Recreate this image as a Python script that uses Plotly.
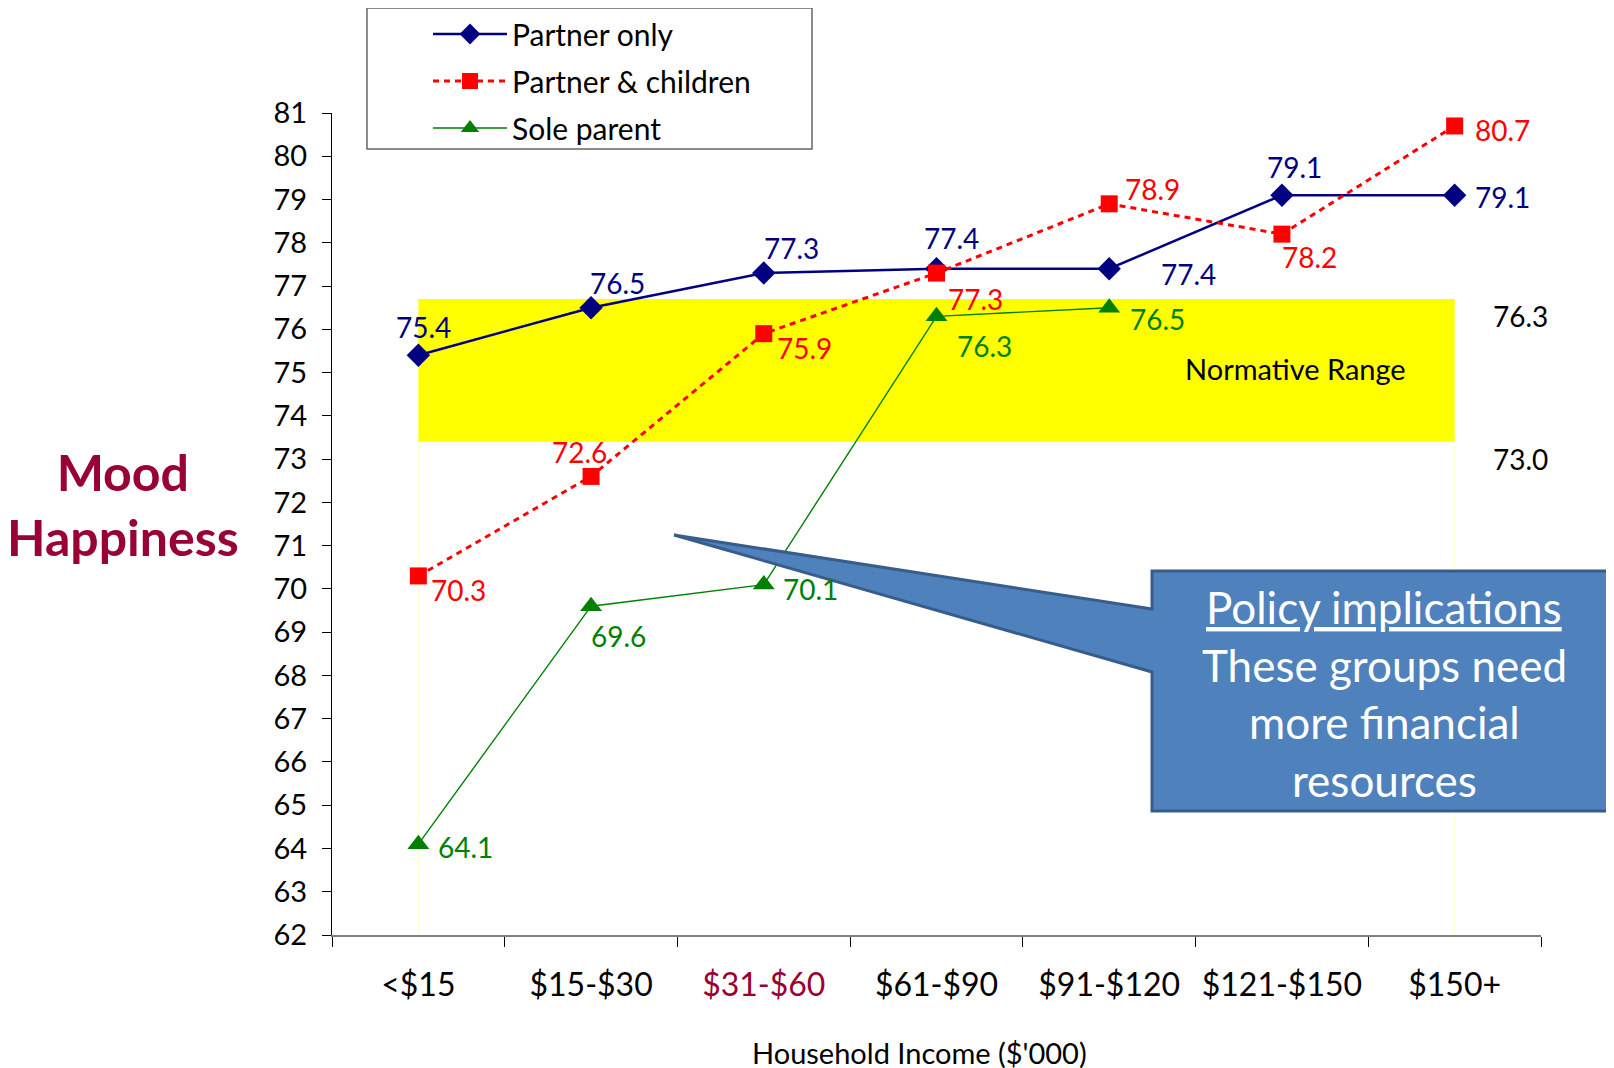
import plotly.graph_objects as go

# data
income_bands = ["<$15", "$15-$30", "$31-$60", "$61-$90", "$91-$120", "$121-$150", "$150+"]
partner_only = [75.4, 76.5, 77.3, 77.4, 77.4, 79.1, 79.1]
partner_children = [70.3, 72.6, 75.9, 77.3, 78.9, 78.2, 80.7]
sole_parent = [64.1, 69.6, 70.1, 76.3, 76.5, None, None]
norm_band = [73.4, 76.7]          # drawn extent of the yellow band
norm_labels = [76.3, 73.0]        # values printed to the right of the band
y_ticks = list(range(62, 82))

W, H = 1614, 1068
PAGE = 8  # body margin of the page
L, R, T, B = 332 - PAGE, 1541 - PAGE, 113 - PAGE, 935 - PAGE
FONT = "Lato"
CRIMSON = "#990033"


def px(x):
    return (x - PAGE - L) / (R - L)


def py(y):
    return (B - (y - PAGE)) / (B - T)


series = [
    ("Partner only", partner_only, "#000080", dict(width=2.5), dict(symbol="diamond", size=18)),
    ("Partner & children", partner_children, "#FF0000", dict(width=3, dash="6px,5px"), dict(symbol="square", size=17)),
    ("Sole parent", sole_parent, "#008000", dict(width=1.4), dict(symbol="triangle-up", size=19)),
]

# label offsets (xshift, yshift) in pixels per point
offsets = [
    [(5, 28), (26, 25), (28, 25), (15, 31), (79, -5), (13, 28), (48, -2)],
    [(40, -14), (-12, 24), (41, -14), (39, -26), (43, 15), (28, -23), (48, -4)],
    [(47, -3), (27, -30), (47, -4), (48, -30), (48, -11)],
]

fig = go.Figure()
for i, (name, vals, col, line, marker) in enumerate(series):
    fig.add_trace(go.Scatter(
        x=income_bands, y=vals, name=name, mode="lines+markers",
        line=dict(color=col, **line), marker=dict(color=col, **marker),
        legendgroup=name, connectgaps=False,
    ))

annotations = []
for (name, vals, col, _, _), offs in zip(series, offsets):
    for j, v in enumerate(vals):
        if v is None:
            continue
        dx, dy = offs[j]
        annotations.append(dict(
            x=j, y=v, xref="x", yref="y", text=f"{v:.1f}", showarrow=False,
            xshift=dx, yshift=dy, font=dict(family=FONT, size=28, color=col),
        ))

# band labels
for v in norm_labels:
    annotations.append(dict(x=6.38, y=v, xref="x", yref="y", text=f"{v:.1f}",
                            showarrow=False, font=dict(family=FONT, size=28, color="black")))
annotations.append(dict(x=5.08, y=75.1, xref="x", yref="y", text="Normative Range",
                        showarrow=False, font=dict(family=FONT, size=29, color="black")))

# y axis title
annotations.append(dict(x=px(123), y=py(504), xref="paper", yref="paper",
                        xanchor="center", yanchor="middle",
                        text="<b>Mood<br>Happiness</b>", showarrow=False,
                        font=dict(family=FONT, size=50, color=CRIMSON)))
# x axis title
annotations.append(dict(x=px(919), y=py(1052), xref="paper", yref="paper",
                        xanchor="center", yanchor="middle",
                        text="Household Income ($'000)", showarrow=False,
                        font=dict(family=FONT, size=29, color="black")))

# callout text
callout_lines = ["<u>Policy implications</u>", "These groups need", "more financial", "resources"]
for k, txt in enumerate(callout_lines):
    annotations.append(dict(x=px(1384), y=py(607 + 57.5 * k), xref="paper", yref="paper",
                            xanchor="center", yanchor="middle",
                            text=txt, showarrow=False,
                            font=dict(family=FONT, size=44, color="white")))

shapes = [
    dict(type="rect", xref="x", yref="y", x0=0, x1=6, y0=norm_band[0], y1=norm_band[1],
         fillcolor="#FFFF00", line=dict(width=0), layer="below"),
    dict(type="line", xref="x", yref="y", x0=0, x1=0, y0=62, y1=norm_band[0],
         line=dict(color="#FFFFCC", width=1), layer="below"),
    dict(type="line", xref="x", yref="y", x0=6, x1=6, y0=62, y1=norm_band[0],
         line=dict(color="#FFFFCC", width=1), layer="below"),
    # legend box
    dict(type="rect", xref="paper", yref="paper", x0=px(367), x1=px(812), y0=py(149), y1=py(8),
         line=dict(color="#666666", width=1.5), fillcolor="rgba(0,0,0,0)"),
]

# callout with pointer
pts = [(674, 535), (1152, 609), (1152, 571), (1630, 571), (1630, 811), (1152, 811), (1152, 672)]
path = "M " + " L ".join(f"{px(x):.5f},{py(y):.5f}" for x, y in pts) + " Z"
shapes.append(dict(type="path", xref="paper", yref="paper", path=path,
                   fillcolor="#4F81BD", line=dict(color="#385D8A", width=3), layer="above"))

tick_text = [f"<span style='color:{CRIMSON}'>{c}</span>" if c == "$31-$60" else c for c in income_bands]

fig.update_layout(
    width=W, height=H,
    margin=dict(l=L, r=W - R, t=T, b=H - B, autoexpand=False),
    paper_bgcolor="white", plot_bgcolor="white",
    font=dict(family=FONT, color="black"),
    showlegend=True,
    legend=dict(x=px(428), y=py(8), xanchor="left", yanchor="top",
                bgcolor="rgba(0,0,0,0)", borderwidth=0, tracegroupgap=5,
                itemwidth=74, font=dict(family=FONT, size=30, color="black")),
    xaxis=dict(type="category", range=[-0.5, 6.5], tickson="boundaries",
               tickvals=income_bands, ticktext=tick_text,
               ticks="outside", ticklen=10, tickcolor="black",
               showline=True, linecolor="#808080", linewidth=2,
               showgrid=False, zeroline=False, ticklabelstandoff=21,
               tickfont=dict(family=FONT, size=32, color="black")),
    yaxis=dict(range=[62, 81], tickvals=y_ticks, ticks="outside", ticklen=9,
               tickcolor="black", showline=True, linecolor="black", linewidth=1,
               showgrid=False, zeroline=False, ticklabelstandoff=9,
               tickfont=dict(family=FONT, size=29, color="black")),
    shapes=shapes,
    annotations=annotations,
)

fig.write_html("out.html")
